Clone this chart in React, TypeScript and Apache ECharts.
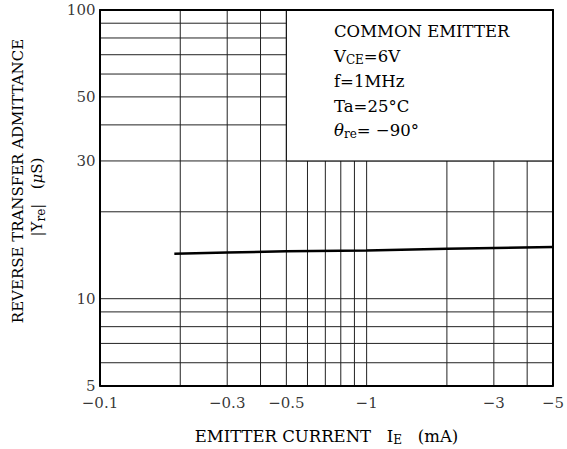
import React, { useEffect, useRef } from "react";
import * as echarts from "echarts";

// ---- data ----
const xRange = [0.1, 5];
const yRange = [5, 100];
const xGridValues = [0.2, 0.3, 0.4, 0.5, 0.6, 0.7, 0.8, 0.9, 1, 2, 3, 4];
const yGridValues = [6, 7, 8, 9, 10, 20, 30, 40, 50, 60, 70, 80, 90];
const xTickLabels = [0.1, 0.3, 0.5, 1, 3, 5];
const yTickLabels = [5, 10, 30, 50, 100];
const emitterCurrentMA = [0.19, 0.3, 0.5, 1, 2, 5];
const admittanceUS = [14.3, 14.45, 14.6, 14.7, 14.9, 15.1];
const boxFrom = [0.5, 30];
const boxTo = [5, 100];

const FONT = "'DejaVu Serif', 'Liberation Serif', serif";

export default function App() {
  const ref = useRef<HTMLDivElement>(null);

  useEffect(() => {
    if (!ref.current) return;
    const chart = echarts.init(ref.current, undefined, { renderer: "svg" });

    const axisBase = {
      type: "log",
      logBase: 10,
      axisLine: { show: true, lineStyle: { color: "#000", width: 2 } },
      axisTick: { show: false },
      axisLabel: { show: false },
      splitLine: { show: false },
      z: 10,
    };

    const sub = { fontSize: 12, fontFamily: FONT, padding: [8, 0, 0, 0], fill: "#000" };
    const big = 16.5;
    const textStyle = { fontSize: big, fontFamily: FONT, fill: "#000" };
    const it = { fontSize: big, fontFamily: FONT, fontStyle: "italic", fill: "#000" };

    const legendLines = [
      "COMMON EMITTER",
      "V{sub|CE}=6V",
      "f=1MHz",
      "Ta=25°C",
      "{it|θ}{sub|re}= −90°",
    ];
    const legendY = [31.5, 56, 81, 106, 130];

    const labelScatter = {
      type: "scatter",
      silent: true,
      clip: false,
      symbolSize: 1,
      itemStyle: { color: "transparent" },
      z: 5,
    };

    const option: any = {
      animation: false,
      backgroundColor: "#fff",
      grid: { left: 100, right: 14, top: 10, bottom: 63.4, containLabel: false },
      xAxis: [
        { ...axisBase, min: xRange[0], max: xRange[1], position: "bottom" },
        { ...axisBase, min: xRange[0], max: xRange[1], position: "top" },
      ],
      yAxis: [
        { ...axisBase, min: yRange[0], max: yRange[1], position: "left" },
        { ...axisBase, min: yRange[0], max: yRange[1], position: "right" },
      ],
      series: [
        {
          type: "custom",
          name: "vgrid",
          silent: true,
          clip: false,
          z: 1,
          data: xGridValues.map((v) => [v, yRange[0]]),
          encode: { x: 0, y: 1 },
          renderItem: (params: any, api: any) => {
            const x = api.value(0);
            const p1 = api.coord([x, yRange[0]]);
            const p2 = api.coord([x, yRange[1]]);
            return {
              type: "line",
              shape: { x1: p1[0], y1: p1[1], x2: p2[0], y2: p2[1] },
              style: { stroke: "#222", lineWidth: 1 },
            };
          },
        },
        {
          type: "custom",
          name: "hgrid",
          silent: true,
          clip: false,
          z: 1,
          data: yGridValues.map((v) => [xRange[0], v]),
          encode: { x: 0, y: 1 },
          renderItem: (params: any, api: any) => {
            const y = api.value(1);
            const p1 = api.coord([xRange[0], y]);
            const p2 = api.coord([xRange[1], y]);
            return {
              type: "line",
              shape: { x1: p1[0], y1: p1[1], x2: p2[0], y2: p2[1] },
              style: { stroke: "#222", lineWidth: 1 },
            };
          },
        },
        {
          type: "custom",
          name: "box",
          silent: true,
          clip: false,
          z: 3,
          data: [[boxFrom[0], boxFrom[1], boxTo[0], boxTo[1]]],
          encode: { x: [0, 2], y: [1, 3] },
          renderItem: (params: any, api: any) => {
            const a = api.coord([api.value(0), api.value(3)]);
            const b = api.coord([api.value(2), api.value(1)]);
            return {
              type: "rect",
              shape: { x: a[0], y: a[1], width: b[0] - a[0], height: b[1] - a[1] },
              style: { fill: "#fff", stroke: "#000", lineWidth: 1 },
            };
          },
        },
        {
          type: "line",
          name: "Yre",
          z: 4,
          symbol: "none",
          data: emitterCurrentMA.map((x, i) => [x, admittanceUS[i]]),
          lineStyle: { color: "#000", width: 2.5 },
        },
        {
          ...labelScatter,
          name: "xlabels",
          data: xTickLabels.map((v) => [v, yRange[0]]),
          label: {
            show: true,
            position: "bottom",
            distance: 9,
            formatter: (p: any) => "−" + p.value[0],
            fontFamily: FONT,
            fontSize: 15,
            color: "#000",
          },
        },
        {
          ...labelScatter,
          name: "ylabels",
          data: yTickLabels.map((v) => [xRange[0], v]),
          label: {
            show: true,
            position: "left",
            distance: 4,
            formatter: (p: any) => String(p.value[1]),
            fontFamily: FONT,
            fontSize: 15,
            color: "#000",
          },
        },
      ],
      graphic: [
        ...legendLines.map((t, i) => ({
          type: "text",
          z: 100,
          x: 334,
          y: legendY[i],
          style: {
            ...textStyle,
            text: t,
            align: "left",
            verticalAlign: "middle",
            rich: { sub, it },
          },
        })),
        {
          type: "text",
          z: 100,
          x: 326.5,
          y: 436,
          style: {
            ...textStyle,
            text: "EMITTER CURRENT   I{sub|E}   (mA)",
            align: "center",
            verticalAlign: "middle",
            rich: { sub },
          },
        },
        {
          type: "text",
          z: 100,
          x: 18,
          y: 181,
          rotation: Math.PI / 2,
          style: {
            ...textStyle,
            fontSize: 15,
            text: "REVERSE TRANSFER ADMITTANCE",
            align: "center",
            verticalAlign: "middle",
          },
        },
        {
          type: "text",
          z: 100,
          x: 37,
          y: 197,
          rotation: Math.PI / 2,
          style: {
            ...textStyle,
            fontSize: 15,
            text: "|Y{sub|re}|   ({it|μ}S)",
            align: "center",
            verticalAlign: "middle",
            rich: {
              sub,
              it: { ...it, fontSize: 15 },
            },
          },
        },
      ],
    };

    chart.setOption(option);
    return () => chart.dispose();
  }, []);

  return (
    <div
      ref={ref}
      style={{ position: "absolute", left: 0, top: 0, width: 567, height: 449, background: "#fff" }}
    />
  );
}
